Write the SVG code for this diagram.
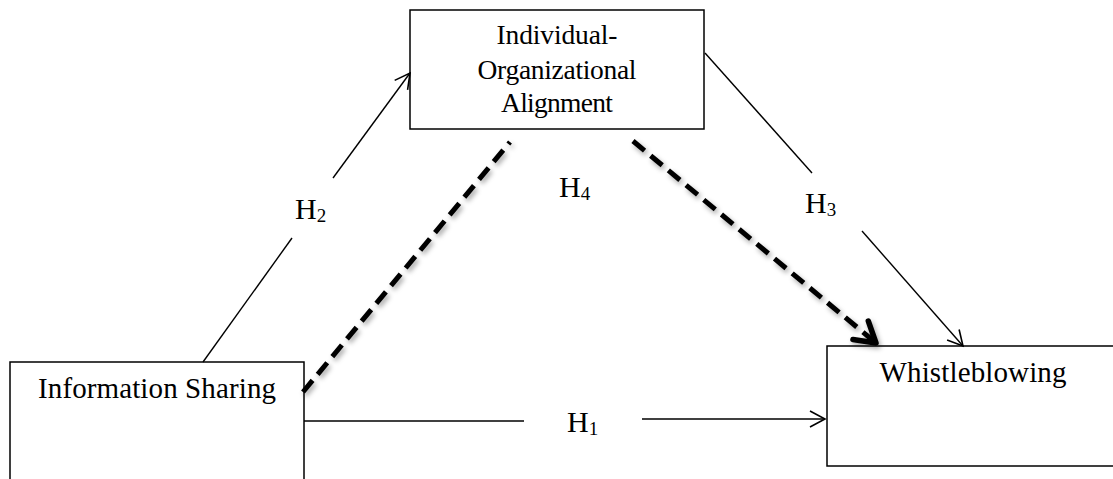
<svg xmlns="http://www.w3.org/2000/svg" width="1113" height="479" viewBox="0 0 1113 479">
<style>
.box{fill:#fff;stroke:#000;stroke-width:1.5}
.lbl{font-family:"Liberation Serif","Times New Roman",serif;font-size:29px;fill:#000;text-anchor:middle}
.top{font-size:27.5px}
.h{font-family:"Liberation Serif","Times New Roman",serif;font-size:30px;fill:#000}
.sub{font-size:19px}
.thin{fill:none;stroke:#000;stroke-width:1.4}
.dash{fill:none;stroke:#000;stroke-width:5;stroke-dasharray:15 8}
</style>
<defs>
<marker id="arr" markerUnits="userSpaceOnUse" markerWidth="24" markerHeight="24" viewBox="-18 -12 24 24" refX="0" refY="0" orient="auto" overflow="visible">
<path d="M-15,-8 L0,0 L-15,8" fill="none" stroke="#000" stroke-width="1.6"/>
</marker>
<marker id="bold" markerUnits="userSpaceOnUse" markerWidth="34" markerHeight="34" viewBox="-26 -17 34 34" refX="0" refY="0" orient="auto" overflow="visible">
<path d="M-20,-12 L0,0 L-20,12" fill="none" stroke="#000" stroke-width="5.5" stroke-linecap="round" stroke-linejoin="round"/>
</marker>
<filter id="sh" x="-20%" y="-20%" width="140%" height="140%">
<feDropShadow dx="2" dy="3" stdDeviation="2.5" flood-color="#000" flood-opacity="0.35"/>
</filter>
</defs>

<g id="node-alignment">
<rect class="box" x="410" y="10" width="294" height="119"/>
<text class="lbl top" x="557" y="44" textLength="121">Individual-</text>
<text class="lbl top" x="557" y="79" textLength="159">Organizational</text>
<text class="lbl top" x="557" y="112" textLength="112">Alignment</text>
</g>

<g id="node-info">
<rect class="box" x="10" y="362" width="294" height="140"/>
<text class="lbl" x="157" y="398" textLength="238">Information Sharing</text>
</g>

<g id="node-whistle">
<rect class="box" x="827" y="346" width="300" height="120"/>
<text class="lbl" x="973" y="382" textLength="187">Whistleblowing</text>
</g>

<g id="connectors">
<line class="thin" x1="304" y1="421" x2="524" y2="421"/>
<line class="thin" x1="642" y1="419" x2="825" y2="419" marker-end="url(#arr)"/>
<line class="thin" x1="203" y1="362" x2="292" y2="238"/>
<line class="thin" x1="333" y1="178" x2="410" y2="73" marker-end="url(#arr)"/>
<line class="thin" x1="705" y1="53" x2="812" y2="173"/>
<line class="thin" x1="862" y1="231" x2="963" y2="346" marker-end="url(#arr)"/>
<g filter="url(#sh)">
<line class="dash" x1="303" y1="392" x2="510" y2="142"/>
<line class="dash" x1="633" y1="141" x2="876" y2="343" marker-end="url(#bold)"/>
</g>
</g>

<g id="labels">
<text class="h" x="295" y="219">H<tspan class="sub" dy="3">2</tspan></text>
<text class="h" x="559" y="197">H<tspan class="sub" dy="3">4</tspan></text>
<text class="h" x="805" y="213">H<tspan class="sub" dy="3">3</tspan></text>
<text class="h" x="567" y="432">H<tspan class="sub" dy="3">1</tspan></text>
</g>
</svg>
